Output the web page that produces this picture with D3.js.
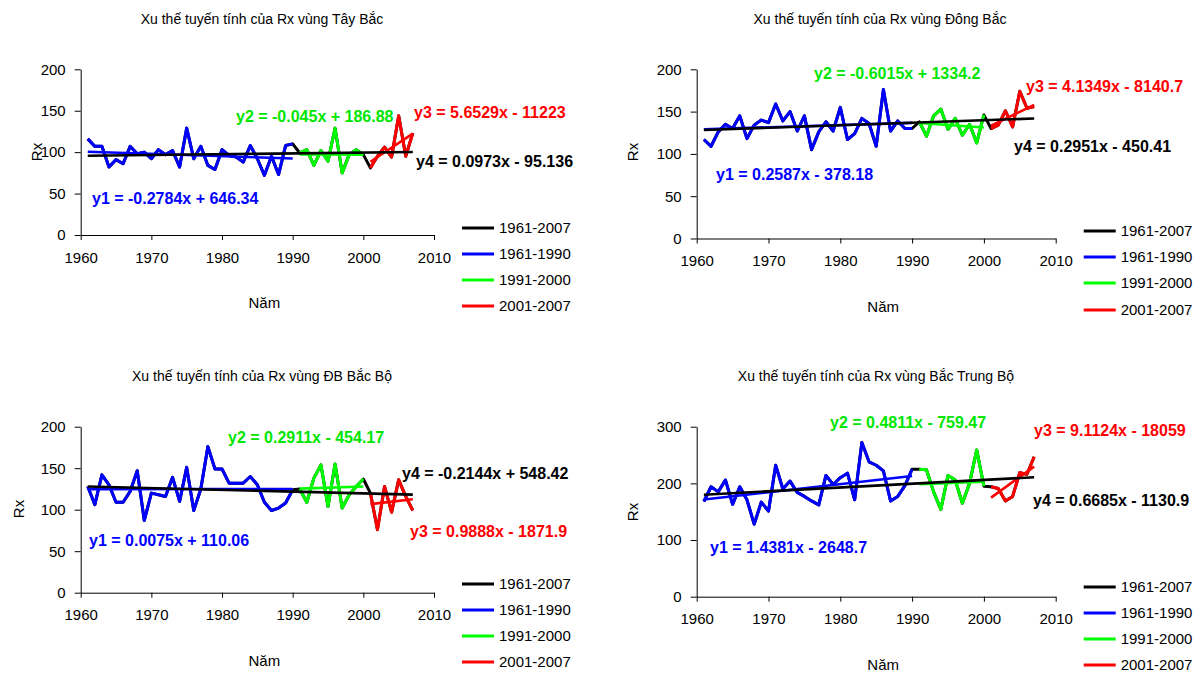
<!DOCTYPE html>
<html>
<head>
<meta charset="utf-8">
<script src="https://cdn.jsdelivr.net/npm/d3@7"></script>
<style>
  body { margin: 0; background: #fff; }
  svg { font-family: Arial, "Liberation Sans", sans-serif; }
</style>
</head>
<body>
<svg id="chart" width="1200" height="677"></svg>
<script>
// years of record
var years = [1961,1962,1963,1964,1965,1966,1967,1968,1969,1970,
             1971,1972,1973,1974,1975,1976,1977,1978,1979,1980,
             1981,1982,1983,1984,1985,1986,1987,1988,1989,1990,
             1991,1992,1993,1994,1995,1996,1997,1998,1999,2000,
             2001,2002,2003,2004,2005,2006,2007];

// Rx values, one per year
var tayBac = [116,107,107,82,91,86,107,98,100,92,
              103,97,102,82,129,92,107,84,79,103,
              96,94,88,108,92,72,95,73,108,110,
              99,103,84,102,89,129,75,97,103,97,
              81,95,106,94,144,95,123];
var dongBac = [117,109,126,135,130,145,118,134,140,137,
               159,139,150,127,145,105,126,138,127,155,
               117,124,142,136,109,176,127,139,130,130,
               138,121,145,153,129,142,122,135,113,146,
               130,134,151,132,174,154,156];
var dbBacBo = [128,106,142,130,109,109,122,147,87,120,
               118,116,139,110,151,99,125,176,149,149,
               132,132,132,140,130,109,99,102,108,124,
               125,109,138,154,104,155,102,118,128,137,
               120,76,128,97,136,116,99];
var bacTrungBo = [168,194,185,206,163,194,171,128,167,151,
                  232,190,204,184,177,169,162,214,198,210,
                  218,171,272,238,232,222,169,177,196,225,
                  225,224,185,154,214,206,165,200,259,195,
                  194,191,169,177,219,216,247];

// periods: y1, y2, y3, y4
var periodNames = ["1961-1990", "1991-2000", "2001-2007", "1961-2007"];
var periodFrom = [1961, 1991, 2001, 1961];
var periodTo = [1990, 2000, 2007, 2007];

// trend coefficients [slope, intercept] for y1..y4
var tayBacTrend = [[-0.2784, 646.34], [-0.045, 186.88], [5.6529, -11223], [0.0973, -95.136]];
var dongBacTrend = [[0.2587, -378.18], [-0.6015, 1334.2], [4.1349, -8140.7], [0.2951, -450.41]];
var dbBacBoTrend = [[0.0075, 110.06], [0.2911, -454.17], [0.9888, -1871.9], [-0.2144, 548.42]];
var bacTrungBoTrend = [[1.4381, -2648.7], [0.4811, -759.47], [9.1124, -18059], [0.6685, -1130.9]];

var tayBacEq = ["y1 = -0.2784x + 646.34", "y2 = -0.045x + 186.88", "y3 = 5.6529x - 11223", "y4 = 0.0973x - 95.136"];
var dongBacEq = ["y1 = 0.2587x - 378.18", "y2 = -0.6015x + 1334.2", "y3 = 4.1349x - 8140.7", "y4 = 0.2951x - 450.41"];
var dbBacBoEq = ["y1 = 0.0075x + 110.06", "y2 = 0.2911x - 454.17", "y3 = 0.9888x - 1871.9", "y4 = -0.2144x + 548.42"];
var bacTrungBoEq = ["y1 = 1.4381x - 2648.7", "y2 = 0.4811x - 759.47", "y3 = 9.1124x - 18059", "y4 = 0.6685x - 1130.9"];

var titles = ["Xu thế tuyến tính của Rx vùng Tây Bắc",
              "Xu thế tuyến tính của Rx vùng Đông Bắc",
              "Xu thế tuyến tính của Rx vùng ĐB Bắc Bộ",
              "Xu thế tuyến tính của Rx vùng Bắc Trung Bộ"];
var xTicks = [1960, 1970, 1980, 1990, 2000, 2010];
var yTicks200 = [0, 50, 100, 150, 200];
var yTicks300 = [0, 100, 200, 300];
var legendOrder = ["1961-2007", "1961-1990", "1991-2000", "2001-2007"];

// styling / layout
var periodColors = ["#0000ff", "#00ff00", "#ff0000", "#000000"];
var eqColors = ["#0000ff", "#00e600", "#ff0000", "#000000"];
var legendColors = ["#000000", "#0000ff", "#00ff00", "#ff0000"];

var panels = [
  {data: tayBac, trend: tayBacTrend, eq: tayBacEq, title: titles[0], yTicks: yTicks200,
   x0: 80.7, x1: 434, yTop: 69.3, yBot: 235, titleX: 262, titleY: 24,
   eqPos: [[92, 204], [236, 122], [414, 118], [416, 167]],
   rxX: 37, rxY: 152, namY: 308, legY: [228, 254, 280, 306]},
  {data: dongBac, trend: dongBacTrend, eq: dongBacEq, title: titles[1], yTicks: yTicks200,
   x0: 696.7, x1: 1055.7, yTop: 69.3, yBot: 238.5, titleX: 880, titleY: 24,
   eqPos: [[716, 180], [814, 79], [1026, 92], [1014, 152]],
   rxX: 633, rxY: 152, namY: 312, legY: [231, 257, 283, 310]},
  {data: dbBacBo, trend: dbBacBoTrend, eq: dbBacBoEq, title: titles[2], yTicks: yTicks200,
   x0: 80.7, x1: 434, yTop: 426.7, yBot: 592.7, titleX: 262, titleY: 381,
   eqPos: [[89, 546], [228, 443], [410, 537], [402, 479]],
   rxX: 19, rxY: 509, namY: 666, legY: [584, 610, 636, 662]},
  {data: bacTrungBo, trend: bacTrungBoTrend, eq: bacTrungBoEq, title: titles[3], yTicks: yTicks300,
   x0: 696.7, x1: 1055.7, yTop: 426.7, yBot: 596.7, titleX: 876, titleY: 381,
   eqPos: [[710, 553], [830, 428], [1034, 436], [1033, 506]],
   rxX: 633, rxY: 512, namY: 670, legY: [587, 613, 639, 665]}
];

var svg = d3.select("#chart");
var lineGen = d3.line();

panels.forEach(function (p) {
  var yMax = p.yTicks[p.yTicks.length - 1];
  var x = d3.scaleLinear().domain([1960, 2010]).range([p.x0, p.x1]);
  var y = d3.scaleLinear().domain([0, yMax]).range([p.yBot, p.yTop]);
  var g = svg.append("g");

  g.append("text")
   .attr("x", p.titleX).attr("y", p.titleY)
   .attr("text-anchor", "middle")
   .style("font-size", "14px")
   .text(p.title);

  // axes
  var yAxis = g.append("g")
   .attr("transform", "translate(" + p.x0 + ",0)")
   .call(d3.axisLeft(y).tickValues(p.yTicks).tickSize(6).tickSizeOuter(0).tickPadding(9));
  var xAxis = g.append("g")
   .attr("transform", "translate(0," + p.yBot + ")")
   .call(d3.axisBottom(x).tickValues(xTicks).tickFormat(d3.format("d")).tickSize(5).tickSizeOuter(0).tickPadding(12));
  [yAxis, xAxis].forEach(function (a) {
    a.selectAll("text").style("font-size", "15px").style("fill", "#000").style("font-family", "Arial, 'Liberation Sans', sans-serif");
    a.selectAll("path, line").style("stroke", "#000");
  });

  g.append("text")
   .attr("transform", "translate(" + p.rxX + "," + p.rxY + ") rotate(-90)")
   .attr("text-anchor", "middle").attr("dy", "0.35em")
   .style("font-size", "15px")
   .text("Rx");
  g.append("text")
   .attr("x", (p.x0 + p.x1) / 2 + 7).attr("y", p.namY)
   .attr("text-anchor", "middle")
   .style("font-size", "15px")
   .text("Năm");

  // full series in black, then the three periods on top
  var pts = years.map(function (yr, i) { return [x(yr), y(p.data[i])]; });
  g.append("path")
   .attr("d", lineGen(pts))
   .style("fill", "none").style("stroke", "#000").style("stroke-width", 3)
   .style("stroke-linejoin", "round");

  for (var k = 0; k < 3; k++) {
    var seg = years.map(function (yr, i) { return [yr, p.data[i]]; })
      .filter(function (d) { return d[0] >= periodFrom[k] && d[0] <= periodTo[k]; })
      .map(function (d) { return [x(d[0]), y(d[1])]; });
    g.append("path")
     .attr("d", lineGen(seg))
     .style("fill", "none").style("stroke", periodColors[k]).style("stroke-width", 3)
     .style("stroke-linejoin", "round");
  }

  // trend lines
  for (var t = 0; t < 4; t++) {
    var c = p.trend[t];
    var a = periodFrom[t], b = periodTo[t];
    g.append("path")
     .attr("d", lineGen([[x(a), y(c[0] * a + c[1])], [x(b), y(c[0] * b + c[1])]]))
     .style("fill", "none").style("stroke", periodColors[t]).style("stroke-width", 2.6);
  }

  // equation labels
  p.eq.forEach(function (txt, i) {
    g.append("text")
     .attr("x", p.eqPos[i][0]).attr("y", p.eqPos[i][1])
     .style("font-size", "16px").style("font-weight", "bold")
     .style("fill", eqColors[i])
     .text(txt);
  });

  // legend
  var lx = p.x1 + 28;
  legendOrder.forEach(function (name, i) {
    g.append("line")
     .attr("x1", lx).attr("x2", lx + 32)
     .attr("y1", p.legY[i]).attr("y2", p.legY[i])
     .style("stroke", legendColors[i]).style("stroke-width", 3);
    g.append("text")
     .attr("x", lx + 37).attr("y", p.legY[i]).attr("dy", "0.35em")
     .style("font-size", "15px")
     .text(name);
  });
});
</script>
</body>
</html>
